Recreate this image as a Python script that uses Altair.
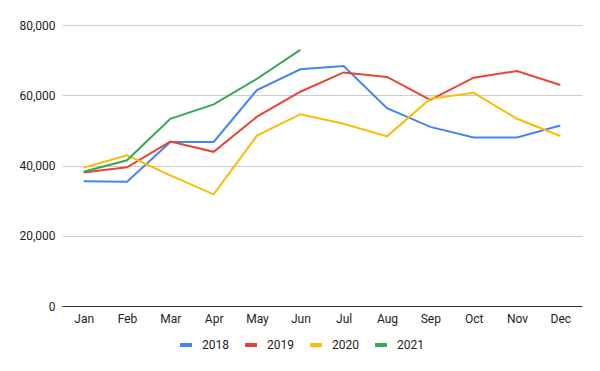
import altair as alt
import pandas as pd

months = ["Jan", "Feb", "Mar", "Apr", "May", "Jun", "Jul", "Aug", "Sep", "Oct", "Nov", "Dec"]
y2018 = [35500, 35400, 46700, 46700, 61500, 67400, 68300, 56300, 51000, 48000, 48000, 51400]
y2019 = [38000, 39500, 46800, 43900, 53900, 61000, 66500, 65200, 58700, 65000, 66900, 62900]
y2020 = [39400, 42900, 37200, 31800, 48500, 54600, 51900, 48300, 59000, 60700, 53300, 48400]
y2021 = [38200, 41500, 53300, 57400, 64700, 72900]
series = ["2018", "2019", "2020", "2021"]
colors = ["#4285F4", "#EA4335", "#FBBC04", "#34A853"]

rows = []
for name, vals in zip(series, [y2018, y2019, y2020, y2021]):
    for m, v in zip(months, vals):
        rows.append({"Month": m, "Year": name, "Value": v})
df = pd.DataFrame(rows)

FONT = "Roboto"

chart = alt.Chart(df).mark_line(strokeWidth=2).encode(
    x=alt.X("Month:N", sort=months, title=None,
            scale=alt.Scale(type="point", padding=0.5),
            axis=alt.Axis(labelAngle=0, grid=False, ticks=False, domain=True,
                          domainColor="#333333", domainWidth=1,
                          labelFont=FONT, labelFontSize=12, labelColor="#222222",
                          labelPadding=7)),
    y=alt.Y("Value:Q", title=None,
            scale=alt.Scale(domain=[0, 80000], nice=False),
            axis=alt.Axis(values=[0, 20000, 40000, 60000, 80000], format=",.0f",
                          grid=True, gridColor="#cccccc", domain=False, ticks=False,
                          labelFont=FONT, labelFontSize=12, labelColor="#222222",
                          labelPadding=7)),
    color=alt.Color("Year:N", sort=series,
                    scale=alt.Scale(domain=series, range=colors),
                    legend=alt.Legend(title=None, orient="none", direction="horizontal",
                                      legendX=116, legendY=312,
                                      symbolType="stroke", symbolSize=144,
                                      symbolStrokeWidth=4, labelOffset=8,
                                      columnPadding=8,
                                      labelFont=FONT, labelFontSize=12,
                                      labelColor="#222222")),
).properties(
    width=520, height=281,
    autosize=alt.AutoSizeParams(type="none"),
    padding={"left": 54, "top": 17, "right": 10, "bottom": 57},
).configure_view(stroke=None)

chart.save("out.html", embed_options={"renderer": "svg", "actions": False})
